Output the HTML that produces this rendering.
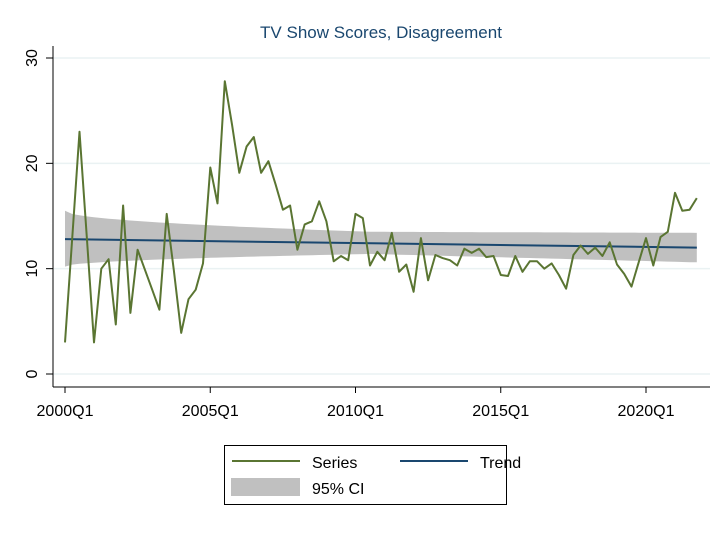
<!DOCTYPE html>
<html><head><meta charset="utf-8"><style>
body{margin:0;background:#fff;}
svg text{font-family:"Liberation Sans",Arial,sans-serif;}
</style></head><body>
<svg id="chart" width="728" height="530" xmlns="http://www.w3.org/2000/svg">
<rect width="728" height="530" fill="#fff"/>
<text x="381" y="38" text-anchor="middle" font-size="17" fill="#1a476f">TV Show Scores, Disagreement</text>
<g id="grid"></g>
<g id="band"></g>
<g id="lines"></g>
<g id="axes"></g>
<g>
<rect x="224.5" y="445.5" width="282" height="59" fill="#fff" stroke="#000" stroke-width="1"/>
<line x1="232" y1="461" x2="300" y2="461" stroke="#5a7532" stroke-width="2"/>
<text x="312" y="468" font-size="16">Series</text>
<line x1="400" y1="461" x2="468" y2="461" stroke="#1a476f" stroke-width="2"/>
<text x="480" y="468" font-size="16">Trend</text>
<rect x="231" y="478" width="69" height="18" fill="#c0c0c0"/>
<text x="312" y="494" font-size="16">95% CI</text>
</g>
</svg>
<script>
const series = [3.0,13.0,23.0,13.0,3.0,10.0,10.9,4.7,16.0,5.8,11.8,9.9,8.0,6.1,15.2,9.8,3.9,7.1,8.0,10.5,
19.6,16.2,27.8,23.7,19.1,21.6,22.5,19.1,20.2,18.0,15.6,16.0,11.8,14.2,14.5,16.4,14.5,10.7,11.2,10.8,
15.2,14.8,10.3,11.6,10.8,13.4,9.7,10.4,7.8,12.9,8.9,11.3,11.0,10.8,10.3,11.9,11.5,11.9,11.1,11.2,
9.4,9.3,11.2,9.7,10.7,10.7,10.0,10.5,9.4,8.1,11.3,12.2,11.4,12.0,11.2,12.5,10.4,9.5,8.3,10.6,
12.9,10.3,13.0,13.5,17.2,15.5,15.6,16.7];
const trendStart = 12.8, trendEnd = 12.0;
const ciLowerPts = [10.2,11.4,10.6];
const ciUpperPts = [15.5,13.5,13.4];
const yTicks = [0,10,20,30];
const xTickLabels = ["2000Q1","2005Q1","2010Q1","2015Q1","2020Q1"];
const xTickIdx = [0,20,40,60,80];

const NS="http://www.w3.org/2000/svg";
const X = i => 65 + i*(646-65)/80;
const Y = v => 374 - v*(374-58)/30;
function mk(tag, attrs, parent){const e=document.createElementNS(NS,tag);for(const k in attrs)e.setAttribute(k,attrs[k]);document.getElementById(parent).appendChild(e);return e;}
const n = series.length;
yTicks.forEach(v=>{
  const g=mk('line',{x1:53,x2:710,y1:Y(v),y2:Y(v),stroke:'#eaf2f3','stroke-width':1.5},'grid');
  
  
});
// CI band: interpolate lower/upper through start, middle(idx 42), end
function interp(arr,i){const m=42;if(i<=m){return arr[0]+(arr[1]-arr[0])*Math.sqrt(i/m);}return arr[1]+(arr[2]-arr[1])*((i-m)/(n-1-m));}
let up=[],lo=[];
for(let i=0;i<n;i++){up.push(X(i).toFixed(1)+','+Y(interp(ciUpperPts,i)).toFixed(1));lo.push(X(i).toFixed(1)+','+Y(interp(ciLowerPts,i)).toFixed(1));}
const band=mk('polygon',{points:up.concat(lo.reverse()).join(' '),fill:'#c0c0c0'},'band');


const tr=mk('line',{x1:X(0),y1:Y(trendStart),x2:X(n-1),y2:Y(trendEnd),stroke:'#1a476f','stroke-width':2},'lines');


const sp=mk('polyline',{points:series.map((v,i)=>X(i).toFixed(1)+','+Y(v).toFixed(1)).join(' '),fill:'none',stroke:'#5a7532','stroke-width':2,'stroke-linejoin':'round'},'lines');


// axes
const ya=mk('line',{x1:53,y1:46,x2:53,y2:387,stroke:'#000','stroke-width':1},'axes');


const xa=mk('line',{x1:53,y1:387,x2:710,y2:387,stroke:'#000','stroke-width':1},'axes');


yTicks.forEach(v=>{
  mk('line',{x1:46,x2:53,y1:Y(v),y2:Y(v),stroke:'#000'},'axes');
  const t=mk('text',{x:0,y:0,'font-size':16,'text-anchor':'middle',transform:`translate(37,${Y(v)}) rotate(-90)`},'axes');
  t.textContent=v;
  
  
});
xTickIdx.forEach((idx,k)=>{
  mk('line',{x1:X(idx),x2:X(idx),y1:387,y2:393,stroke:'#000'},'axes');
  const t=mk('text',{x:X(idx),y:416,'font-size':16,'text-anchor':'middle'},'axes');
  t.textContent=xTickLabels[k];
  
  
});
</script>
</body></html>
